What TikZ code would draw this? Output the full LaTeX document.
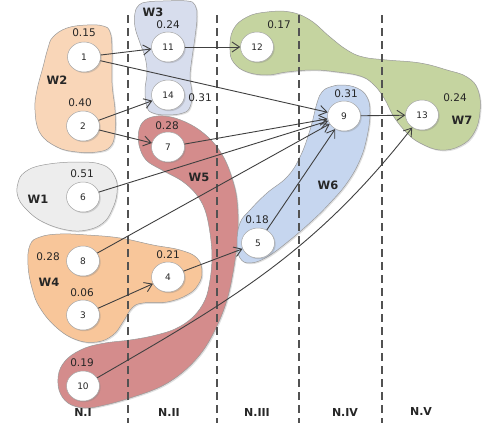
\documentclass[tikz,border=0pt]{standalone}
\usepackage{fontspec}
\setmainfont{DejaVu Sans}
\usetikzlibrary{arrows.meta,shadows}
\definecolor{cW1}{HTML}{EDEDED}
\definecolor{cW2}{HTML}{F9D6B8}
\definecolor{cW3}{HTML}{D7DDED}
\definecolor{cW4}{HTML}{F8C69A}
\definecolor{cW5}{HTML}{D48C8C}
\definecolor{cW6}{HTML}{C6D6EF}
\definecolor{cW7}{HTML}{C5D4A0}
\definecolor{edgec}{HTML}{404040}
\definecolor{txt}{HTML}{262626}
\tikzset{
  blob/.style={draw=black!40, line width=0.5pt, drop shadow={shadow xshift=1.2pt, shadow yshift=-1.2pt, opacity=0.25}},
  vnode/.style={ellipse, draw=black!35, line width=0.5pt, fill=white, minimum width=33pt, minimum height=30pt, inner sep=0pt, font=\fontsize{9}{10}\selectfont, text=txt, drop shadow={shadow xshift=1.2pt, shadow yshift=-1.2pt, opacity=0.3}},
  val/.style={font=\fontsize{10.5}{12}\selectfont, text=txt, inner sep=0pt},
  wlab/.style={font=\bfseries\fontsize{11.5}{13}\selectfont, text=txt, inner sep=0pt},
  nlab/.style={font=\bfseries\fontsize{11}{13}\selectfont, text=txt, inner sep=0pt},
  edge/.style={draw=edgec, line width=0.9pt, -{Straight Barb[length=7.5pt,width=10pt,line width=0.9pt]}},
  divider/.style={draw=black!68, line width=1.2pt, dash pattern=on 8pt off 5pt},
}
\usetikzlibrary{shapes.geometric}
\begin{document}
\begin{tikzpicture}
\useasboundingbox (0,0) rectangle (486pt,-423pt);
\begin{scope}[x=1pt,y=1pt]
% blobs
\path[blob, fill=cW7] plot[smooth cycle, tension=0.7] coordinates {(230,-50) (233,-30) (247,-17) (267,-12) (290,-12) (310,-20) (330,-37) (347,-50) (363,-57) (387,-60) (420,-63) (447,-70) (467,-77) (478,-90) (480,-112) (474,-133) (460,-146) (440,-150) (420,-143) (407,-133) (394,-117) (384,-98) (373,-84) (360,-76) (337,-72) (313,-70) (287,-72) (267,-75) (247,-72) (234,-63)};
\path[blob, fill=cW2] plot[smooth cycle, tension=0.7] coordinates {(53,-37) (67,-28) (87,-25) (103,-26) (110,-32) (112,-50) (112,-83) (115,-110) (115,-133) (110,-147) (97,-152) (77,-152) (57,-147) (40,-133) (35,-110) (37,-90) (43,-67) (48,-48)};
\path[blob, fill=cW3] plot[smooth cycle, tension=0.7] coordinates {(135,-13) (139,-5) (147,-2) (163,-1) (187,-1) (195,-5) (197,-17) (195,-37) (192,-58) (190,-77) (192,-93) (190,-107) (183,-113) (167,-115) (153,-113) (147,-107) (145,-90) (147,-73) (145,-57) (140,-43) (135,-27)};
\path[blob, fill=cW1] plot[smooth cycle, tension=0.7] coordinates {(18,-183) (25,-172) (43,-165) (77,-162) (103,-165) (115,-177) (117,-193) (112,-210) (103,-223) (87,-230) (67,-230) (43,-222) (27,-210) (18,-197)};
\path[blob, fill=cW4] plot[smooth cycle, tension=0.7] coordinates {(30,-245) (40,-237) (60,-234) (87,-235) (120,-238) (153,-245) (180,-250) (197,-258) (202,-272) (198,-285) (187,-295) (167,-302) (143,-303) (132,-308) (123,-322) (113,-335) (97,-342) (77,-340) (57,-328) (40,-308) (32,-288) (28,-265)};
\path[blob, fill=cW5] plot[smooth cycle, tension=0.6] coordinates {(145,-120) (158,-116) (175,-118) (195,-127) (212,-141) (224,-158) (232,-178) (237,-200) (238,-233) (234,-267) (227,-300) (216,-328) (202,-352) (183,-372) (160,-387) (130,-398) (105,-405) (85,-408) (68,-403) (59,-390) (59,-372) (68,-358) (85,-348) (105,-343) (130,-340) (152,-336) (175,-329) (193,-317) (205,-300) (210,-280) (212,-257) (210,-233) (205,-210) (196,-194) (182,-181) (162,-170) (146,-160) (139,-145) (139,-130)};
\path[blob, fill=cW6] plot[smooth cycle, tension=0.7] coordinates {(330,-87) (342,-85) (357,-88) (367,-97) (370,-113) (367,-137) (360,-160) (347,-183) (330,-203) (313,-220) (290,-240) (267,-257) (250,-263) (240,-258) (237,-243) (240,-223) (250,-210) (267,-193) (287,-177) (300,-157) (310,-130) (317,-103) (322,-92)};
% dividers
\coordinate (d1t) at (128,-15); \coordinate (d1b) at (128,-423);
\coordinate (d2t) at (217,-15); \coordinate (d2b) at (217,-423);
\coordinate (d3t) at (299,-15); \coordinate (d3b) at (299,-423);
\coordinate (d4t) at (382,-15); \coordinate (d4b) at (382,-423);
\draw[divider] (d1t) -- (d1b);
\draw[divider] (d2t) -- (d2b);
\draw[divider] (d3t) -- (d3b);
\draw[divider] (d4t) -- (d4b);
% nodes
\node[vnode] (n1) at (84,-57) {1};
\node[vnode] (n2) at (83,-126) {2};
\node[vnode] (n6) at (83,-197) {6};
\node[vnode] (n8) at (83,-261) {8};
\node[vnode] (n3) at (83,-315) {3};
\node[vnode] (n10) at (83,-386) {10};
\node[vnode] (n11) at (168,-47) {11};
\node[vnode] (n14) at (168,-95) {14};
\node[vnode] (n7) at (168,-147) {7};
\node[vnode] (n4) at (168,-277) {4};
\node[vnode] (n12) at (257,-47) {12};
\node[vnode] (n9) at (344,-116) {9};
\node[vnode] (n5) at (258,-243) {5};
\node[vnode] (n13) at (422,-115) {13};
% edges
\draw[edge] (n1) -- (n11);
\draw[edge] (n1) -- (n9);
\draw[edge] (n2) -- (n14);
\draw[edge] (n2) -- (n7);
\draw[edge] (n11) -- (n12);
\draw[edge] (n7) -- (n9);
\draw[edge] (n6) -- (n9);
\draw[edge] (n8) -- (n9);
\draw[edge] (n5) -- (n9);
\draw[edge] (n9) -- (n13);
\draw[edge] (n3) -- (n4);
\draw[edge] (n4) -- (n5);
\draw[edge] (n10) to[out=30,in=-128] (n13);
% values
\node[val] (v1) at (84,-33) {0.15};
\node[val] (v2) at (80,-103) {0.40};
\node[val] (v6) at (82,-174) {0.51};
\node[val] (v8) at (48,-257) {0.28};
\node[val] (v3) at (82,-293) {0.06};
\node[val] (v10) at (82,-363) {0.19};
\node[val] (v11) at (168,-25) {0.24};
\node[val] (v14) at (200,-98) {0.31};
\node[val] (v7) at (167,-126) {0.28};
\node[val] (v4) at (168,-255) {0.21};
\node[val] (v12) at (279,-25) {0.17};
\node[val] (v9) at (346,-94) {0.31};
\node[val] (v5) at (257,-220) {0.18};
\node[val] (v13) at (455,-98) {0.24};
% group labels
\node[wlab] (w1) at (38,-199) {W1};
\node[wlab] (w2) at (57,-80) {W2};
\node[wlab] (w3) at (153,-12) {W3};
\node[wlab] (w4) at (49,-282) {W4};
\node[wlab] (w5) at (199,-177) {W5};
\node[wlab] (w6) at (328,-185) {W6};
\node[wlab] (w7) at (462,-120) {W7};
% level labels
\node[nlab] (l1) at (83,-412) {N.I};
\node[nlab] (l2) at (169,-412) {N.II};
\node[nlab] (l3) at (257,-412) {N.III};
\node[nlab] (l4) at (345,-412) {N.IV};
\node[nlab] (l5) at (421,-411) {N.V};
\end{scope}
\end{tikzpicture}
\end{document}
